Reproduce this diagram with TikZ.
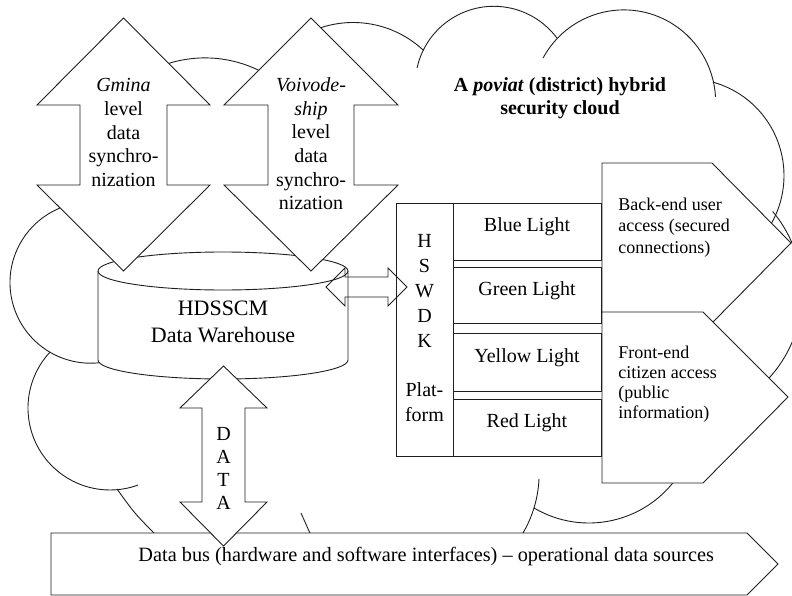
\documentclass[tikz,border=0pt]{standalone}
\usepackage{fontspec}
\setmainfont{Liberation Serif}
% one arc of the cloud outline: centre x, centre y, start angle, end angle, radius
\newcommand\cloudarc[5]{\draw[cloudline] ([shift={(#3:#5)}]#1,#2) arc[start angle=#3, end angle=#4, radius=#5];}
\begin{document}
\begin{tikzpicture}[x=1pt, y=-1pt,
  line width=0.9pt,
  ink/.style={draw=black!88, line width=0.9pt, line join=miter},
  cloudline/.style={ink},
  blockshape/.style={ink, fill=white},
  rowbox/.style={ink, fill=white, rectangle, outer sep=0pt, inner sep=0pt,
    minimum width=148pt, anchor=north west, text height=13pt, text depth=13pt,
    font=\fontsize{20}{23.5}\selectfont},
  body/.style={inner sep=0pt, align=center, anchor=base, font=\fontsize{20}{23.5}\selectfont},
  small/.style={inner sep=0pt, align=left, anchor=base west}]
\useasboundingbox (0,0) rectangle (792,596);

% ---- cloud outline (bumps drawn clockwise from the top left) ----
\begin{scope}
  \clip (0,0) rectangle (792,596);
  \cloudarc{205}{180.5}{-112}{-62}{122.6}
  \cloudarc{353.1}{125.3}{-112}{-47.1}{102.8}
  \cloudarc{493.8}{84.9}{-167.6}{-36.6}{78.6}
  \cloudarc{623.8}{101.7}{-151.6}{-3}{91.8}
  \cloudarc{687}{175.6}{-74.5}{30}{97}
  \cloudarc{675.8}{292.7}{-40}{45}{126.4}
  \cloudarc{588.9}{415.1}{35}{120.6}{107.9}
  \cloudarc{422.2}{473.8}{2.5}{35}{116.9}
  \draw[cloudline] (301,513) -- (313,540);
  \draw[cloudline] (117,489) .. controls (135,514) .. (160,539);
  \cloudarc{110}{408}{-137}{-290}{82}
  \cloudarc{90.6}{282.6}{-105}{-280}{80.6}
\end{scope}

% ---- data warehouse cylinder ----
\draw[blockshape] (98,271) -- (98,360)
  arc[start angle=180, end angle=0, x radius=125, y radius=19]
  -- (348,271) arc[start angle=0, end angle=-180, x radius=125, y radius=19] -- cycle;
\draw[ink] (98,271) arc[start angle=180, end angle=0, x radius=125, y radius=19];
% multi-line labels are anchored at the baseline of their last line
\node[body, font=\fontsize{22}{27}\selectfont] (dwtxt) at (223,342) {HDSSCM\\Data Warehouse};

% ---- synchronization arrows ----
\draw[blockshape] (123.5,18) -- (210,105) -- (167,105) -- (167,185) -- (210,185)
  -- (123.5,271) -- (37,185) -- (80,185) -- (80,105) -- (37,105) -- cycle;
\node[body] (gmina) at (123.5,186)
  {\itshape Gmina\\level\\data\\synchro-\\nization};
\draw[blockshape] (311,18) -- (398,105) -- (354,105) -- (354,185) -- (398,185)
  -- (311,271) -- (224,185) -- (268,185) -- (268,105) -- (224,105) -- cycle;
\node[body] (voiv) at (311,209.5)
  {\itshape Voivode-\\\itshape ship\\level\\data\\synchro-\\nization};

% ---- data bus ----
\draw[blockshape] (51,533) -- (747,533) -- (778,564) -- (747,595) -- (51,595) -- cycle;
\node[inner sep=0pt, anchor=base west, font=\fontsize{20.3}{23.5}\selectfont] (bus) at (138,561)
  {Data bus (hardware and software interfaces) -- operational data sources};

% ---- DATA arrow ----
\draw[blockshape] (223.5,366) -- (267,408) -- (245,408) -- (245,502) -- (267,502)
  -- (223.5,546) -- (180,502) -- (202,502) -- (202,408) -- (180,408) -- cycle;
\node[body, font=\fontsize{20}{23}\selectfont] (data) at (223.5,509) {D\\A\\T\\A};

% ---- HSWDK platform ----
\node[ink, fill=white, rectangle, outer sep=0pt, inner sep=0pt, anchor=north west,
  minimum width=57pt, minimum height=253pt] (hswdk) at (396,203) {};
\node[body, font=\fontsize{20}{25}\selectfont] (hswdktxt) at (424.5,421)
  {H\\S\\W\\D\\K\\[24pt]Plat-\\form};
\node[rowbox, minimum height=57pt] (blue)   at (453,203) {Blue Light};
\node[rowbox, minimum height=56pt] (green)  at (453,267) {Green Light};
\node[rowbox, minimum height=58pt] (yellow) at (453,333) {Yellow Light};
\node[rowbox, minimum height=57pt] (red)    at (453,399) {Red Light};

% ---- access channels ----
\draw[blockshape] (602,163) -- (712,163) -- (791,243) -- (712,323) -- (602,323) -- cycle;
\node[small, font=\fontsize{18}{21.5}\selectfont] (back) at (618,253)
  {Back-end user\\access (secured\\connections)};
\draw[blockshape] (602,312) -- (703,312) -- (788,397) -- (703,483) -- (602,483) -- cycle;
\node[small, font=\fontsize{18}{20}\selectfont] (front) at (618,418)
  {Front-end\\citizen access\\(public\\information)};

% ---- exchange between the warehouse and the platform ----
\coordinate (xl) at (326,287);
\coordinate (xr) at (407,287);
\draw[ink] (xl) -- ++(19,-19) -- ++(0,9) -- ++(43,0) -- ++(0,-9) -- (xr)
  -- ++(-19,19) -- ++(0,-9) -- ++(-43,0) -- ++(0,9) -- cycle;

% ---- title ----
\node[body] (title) at (560,115)
  {\bfseries A \textit{poviat} (district) hybrid\\\bfseries security cloud};
\end{tikzpicture}
\end{document}
